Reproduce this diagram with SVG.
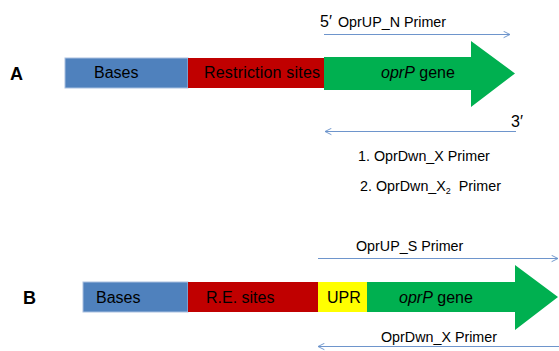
<svg xmlns="http://www.w3.org/2000/svg" width="559" height="351" viewBox="0 0 559 351">
  <defs>
    <marker id="open-arrow" viewBox="0 0 10 10" refX="9" refY="5" markerWidth="8" markerHeight="8" markerUnits="userSpaceOnUse" orient="auto-start-reverse">
      <path d="M1,1 L9,5 L1,9" fill="none" stroke="#6E95CC" stroke-width="1.2"/>
    </marker>
  </defs>
  <style>
    text { font-family: "Liberation Sans", Arial, sans-serif; fill: #000; }
    .box { font-size: 16px; }
    .lbl { font-size: 14.3px; }
    .tag { font-size: 18px; font-weight: bold; }
    .end { font-size: 16px; }
    .primer { stroke: #6E95CC; stroke-width: 1; fill: none; }
    .bases { fill: #4F81BD; stroke: #A9C0E0; stroke-width: 1; }
    .sites { fill: #C00000; }
    .upr { fill: #FFFF00; }
    .gene { fill: #00B050; }
  </style>
  <rect width="559" height="351" fill="#fff"/>

  <!-- Construct A -->
  <g id="label-a"><text class="tag" x="10" y="80">A</text></g>
  <g id="a-bases">
    <rect class="bases" x="65" y="58" width="123" height="30"/>
    <text class="box" x="94" y="78">Bases</text>
  </g>
  <g id="a-sites">
    <rect class="sites" x="188" y="58" width="136" height="30"/>
    <text class="box" x="204" y="78" textLength="116">Restriction sites</text>
  </g>
  <g id="a-gene">
    <polygon class="gene" points="324,57 471,57 471,41 515,73.5 471,107 471,90 324,90"/>
    <text class="box" x="381" y="78"><tspan font-style="italic">oprP</tspan> gene</text>
  </g>

  <!-- Construct B -->
  <g id="label-b"><text class="tag" x="23" y="304">B</text></g>
  <g id="b-bases">
    <rect class="bases" x="83" y="282" width="105" height="30"/>
    <text class="box" x="96" y="303">Bases</text>
  </g>
  <g id="b-sites">
    <rect class="sites" x="188" y="282" width="130" height="30"/>
    <text class="box" x="206" y="303">R.E. sites</text>
  </g>
  <g id="b-upr">
    <rect class="upr" x="318" y="282" width="49" height="30"/>
    <text class="box" x="327" y="303">UPR</text>
  </g>
  <g id="b-gene">
    <polygon class="gene" points="367,282 515,282 515,265 558,297 515,330 515,312 367,312"/>
    <text class="box" x="399" y="303"><tspan font-style="italic">oprP</tspan> gene</text>
  </g>

  <!-- Primers -->
  <g id="connectors">
    <line class="primer" x1="324" y1="34.5" x2="510" y2="34.5" marker-end="url(#open-arrow)"/>
    <line class="primer" x1="516" y1="131.5" x2="325" y2="131.5" marker-end="url(#open-arrow)"/>
    <line class="primer" x1="318" y1="258.5" x2="558" y2="258.5" marker-end="url(#open-arrow)"/>
    <line class="primer" x1="559" y1="346.5" x2="318" y2="346.5" marker-end="url(#open-arrow)"/>
  </g>

  <g id="primer-labels">
    <text class="end" x="320" y="27">5′</text>
    <text class="lbl" x="338" y="27">OprUP_N Primer</text>
    <text class="end" x="511" y="127">3′</text>
    <text class="lbl" x="358" y="161">1. OprDwn_X Primer</text>
    <text class="lbl" x="360" y="191">2. OprDwn_X<tspan font-size="9" dy="3">2</tspan><tspan dy="-3" dx="4"> Primer</tspan></text>
    <text class="lbl" x="356" y="251">OprUP_S Primer</text>
    <text class="lbl" x="381" y="342">OprDwn_X Primer</text>
  </g>
</svg>
